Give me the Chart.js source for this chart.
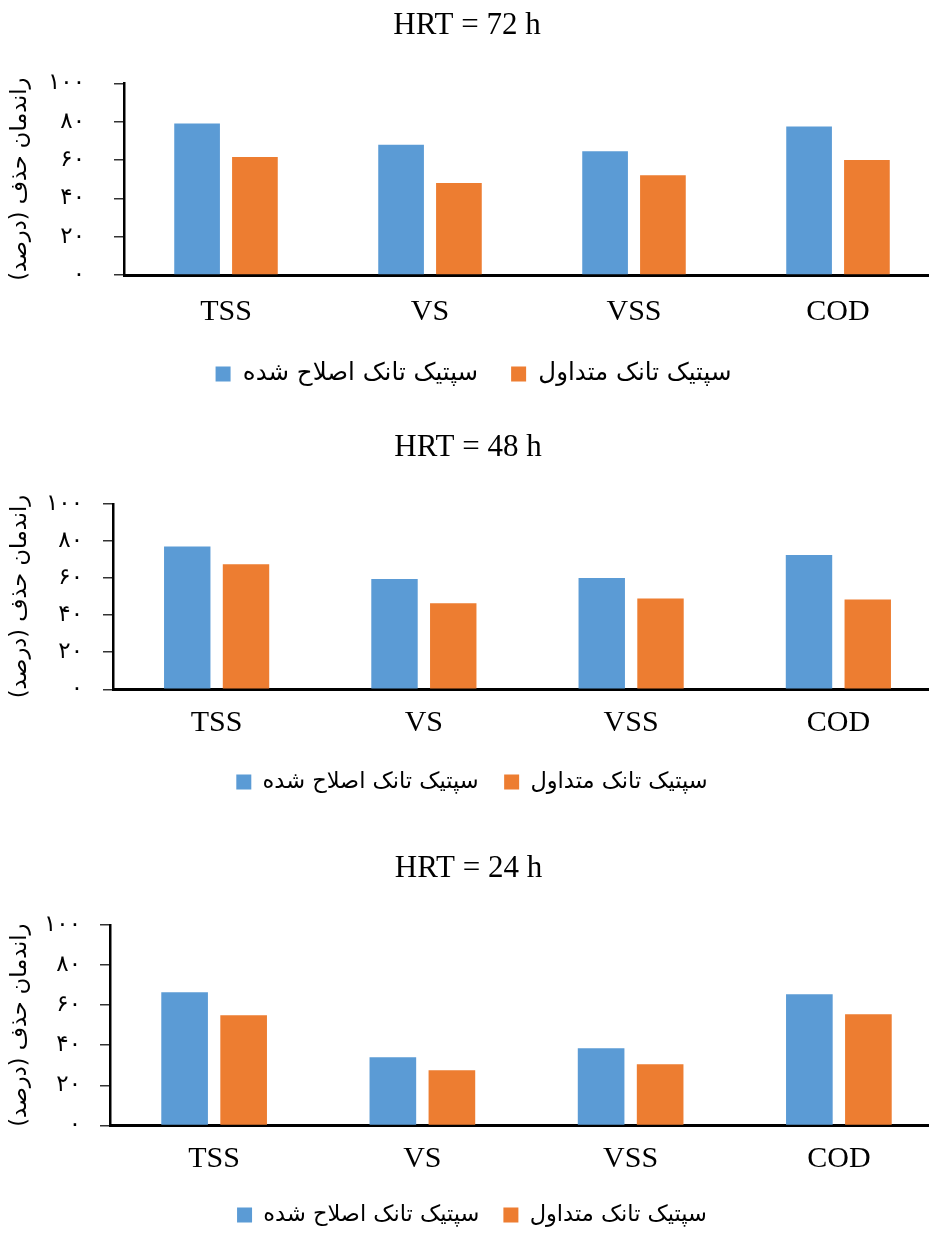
<!DOCTYPE html>
<html>
<head>
<meta charset="utf-8">
<script src="https://cdn.jsdelivr.net/npm/chart.js@4.4.1/dist/chart.umd.min.js"></script>
<style>
  html, body { margin: 0; padding: 0; background: #fff; overflow: hidden; width: 929px; height: 1235px; }
  .wrap { position: absolute; left: -6px; width: 950px; }
</style>
</head>
<body>
<div class="wrap" id="w1"><canvas id="c1"></canvas></div>
<div class="wrap" id="w2"><canvas id="c2"></canvas></div>
<div class="wrap" id="w3"><canvas id="c3"></canvas></div>
<script>
// ---- data ----
const categories = ['TSS', 'VS', 'VSS', 'COD'];
const seriesNames = ['سپتیک تانک اصلاح شده', 'سپتیک تانک متداول'];
const chartTitles = ['HRT = 72 h', 'HRT = 48 h', 'HRT = 24 h'];
const yAxisTitle = 'راندمان حذف (درصد)';
const yTickLabels = ['۰', '۲۰', '۴۰', '۶۰', '۸۰', '۱۰۰'];

const hrt72Modified     = [79, 68, 64.5, 77.5];
const hrt72Conventional = [61.5, 48, 52, 60];
const hrt48Modified     = [77, 59.5, 60, 72.5];
const hrt48Conventional = [67.5, 46.5, 49, 48.5];
const hrt24Modified     = [66.5, 34, 38.5, 65.5];
const hrt24Conventional = [55, 27.5, 30.5, 55.5];

// ---- layout (page px) ----
const layouts = [
  { top: 0,   titlePadTop: 7, titlePadBottom: 39.1, axisX: 124, tickPad: 29, xPad: 19,   xAxisH: 53.75, height: 396.25, padRight: 4, legendFont: 24.5, legendPad: 33,   legendShift: 6.5 },
  { top: 422, titlePadTop: 7, titlePadBottom: 37.8, axisX: 113, tickPad: 20, xPad: 15.7, xAxisH: 56,    height: 381.25, padRight: 2, legendFont: 22.5, legendPad: 25.5, legendShift: 4 },
  { top: 843, titlePadTop: 7, titlePadBottom: 37.8, axisX: 110, tickPad: 19, xPad: 15.7, xAxisH: 54.4,  height: 393.25, padRight: 1, legendFont: 22.5, legendPad: 24,   legendShift: 3.5 }
];
const WRAP_OFFSET = 6;
const BLUE = '#5B9BD5';
const ORANGE = '#ED7D31';
const persianFont = "'DejaVu Sans', sans-serif";
const serifFont = "'Liberation Serif', 'Times New Roman', serif";

const seriesData = [
  [hrt72Modified, hrt72Conventional],
  [hrt48Modified, hrt48Conventional],
  [hrt24Modified, hrt24Conventional]
];

Chart.defaults.color = '#000';

const legendShiftPlugin = {
  id: 'legendShift',
  afterLayout(chart, args, opts) {
    const lg = chart.legend;
    if (lg && opts && opts.dx) { lg.left += opts.dx; lg.right += opts.dx; }
  }
};

seriesData.forEach((pair, i) => {
  const L = layouts[i];
  const wrap = document.getElementById('w' + (i + 1));
  wrap.style.top = L.top + 'px';
  wrap.style.height = L.height + 'px';
  new Chart(document.getElementById('c' + (i + 1)), {
    type: 'bar',
    plugins: [legendShiftPlugin],
    data: {
      labels: categories,
      datasets: [
        { label: seriesNames[0], data: pair[0], backgroundColor: BLUE, borderWidth: 0,
          categoryPercentage: 0.567, barPercentage: 0.79 },
        { label: seriesNames[1], data: pair[1], backgroundColor: ORANGE, borderWidth: 0,
          categoryPercentage: 0.567, barPercentage: 0.79 }
      ]
    },
    options: {
      responsive: true,
      maintainAspectRatio: false,
      animation: false,
      devicePixelRatio: 1,
      layout: { padding: { left: 0, right: L.padRight, top: 0, bottom: 0 } },
      plugins: {
        legendShift: { dx: L.legendShift },
        title: {
          display: true,
          text: chartTitles[i],
          color: '#000',
          font: { family: serifFont, size: 31, weight: 'normal', lineHeight: 1.2 },
          padding: { top: L.titlePadTop, bottom: L.titlePadBottom }
        },
        legend: {
          display: true,
          position: 'bottom',
          labels: {
            boxWidth: 15,
            boxHeight: 15,
            padding: L.legendPad,
            color: '#000',
            font: { family: persianFont, size: L.legendFont }
          }
        },
        tooltip: { enabled: false }
      },
      scales: {
        x: {
          grid: { display: false, drawTicks: false },
          border: { display: true, color: '#000', width: 3 },
          ticks: {
            color: '#000',
            padding: L.xPad,
            font: { family: serifFont, size: 30, lineHeight: 1.2 }
          },
          afterFit: (s) => { s.height = L.xAxisH; }
        },
        y: {
          min: 0,
          max: 100,
          ticks: {
            stepSize: 20,
            color: '#000',
            padding: L.tickPad,
            font: { family: persianFont, size: 23 },
            callback: (v) => yTickLabels[Math.round(v / 20)]
          },
          grid: {
            display: true,
            drawOnChartArea: false,
            drawTicks: true,
            tickLength: 10,
            tickColor: '#333',
            lineWidth: 1.5
          },
          border: { display: true, color: '#000', width: 2.5 },
          title: {
            display: true,
            text: yAxisTitle,
            color: '#000',
            font: { family: persianFont, size: 22.5, lineHeight: 1.2 },
            padding: { top: 12.5, bottom: 0 }
          },
          afterFit: (s) => { s.width = L.axisX + WRAP_OFFSET; }
        }
      }
    }
  });
});
</script>
</body>
</html>
